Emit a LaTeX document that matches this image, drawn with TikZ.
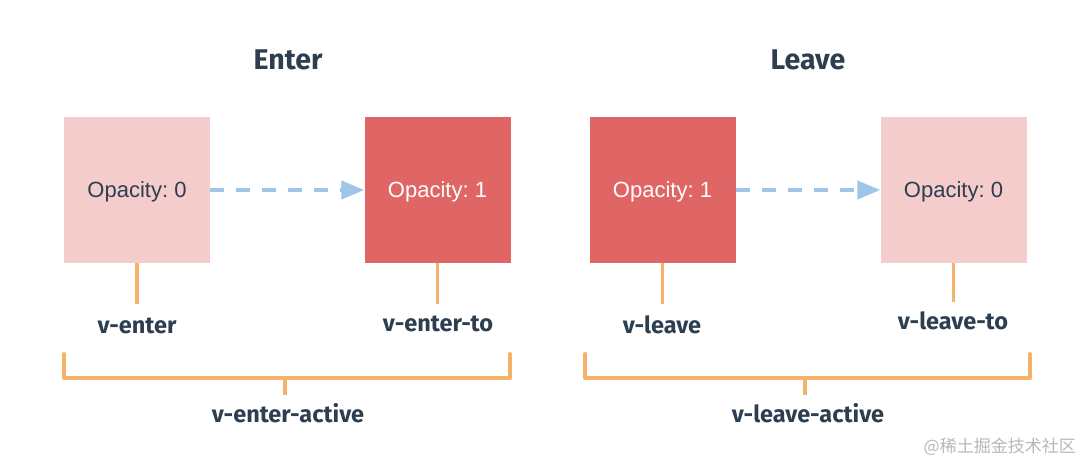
\documentclass[tikz,border=0pt]{standalone}
\usepackage{fontspec}
\setmainfont{Liberation Sans}
\newfontfamily\lblfont{Fira Sans}
\newfontfamily\cjkfont{Noto Sans CJK SC}
\usetikzlibrary{arrows.meta}
\definecolor{pinkbox}{HTML}{F4CCCC}
\definecolor{redbox}{HTML}{E06666}
\definecolor{orangeline}{HTML}{F6B26B}
\definecolor{bluearrow}{HTML}{9FC5E8}
\definecolor{darktext}{HTML}{2C3E50}
\definecolor{wmgray}{HTML}{B8B8B8}
\frenchspacing
\begin{document}
\begin{tikzpicture}[x=1pt,y=-1pt,
  box/.style={minimum width=146pt, minimum height=146pt, inner sep=0pt, font=\fontsize{22}{26}\selectfont, text depth=0pt},
  lightbox/.style={box, fill=pinkbox, text=darktext},
  darkbox/.style={box, fill=redbox, text=white},
  stub/.style={draw=orangeline, line width=3.5pt},
  bracket/.style={draw=orangeline, line width=4pt, line cap=round, line join=round},
  flow/.style={draw=bluearrow, line width=4pt, dash pattern=on 14pt off 12pt, -{Triangle[length=23pt,width=18pt]}},
  lbl/.style={font=\lblfont\bfseries\fontsize{23.5}{28}\selectfont, text=darktext, anchor=base, inner sep=0pt},
  title/.style={font=\lblfont\bfseries\fontsize{28.5}{34}\selectfont, text=darktext, anchor=base, inner sep=0pt}
]
\useasboundingbox (0,0) rectangle (1084,470);
\fill[white] (0,0) rectangle (1084,470);

% titles
\node[title] (tEnter) at (288,70) {Enter};
\node[title] (tLeave) at (808,70) {Leave};

% boxes
\node[lightbox] (b1) at (137,190) {Opacity: 0};
\node[darkbox] (b2) at (437.5,190) {Opacity: 1};
\node[darkbox] (b3) at (662.5,190) {Opacity: 1};
\node[lightbox] (b4) at (953.5,190) {Opacity: 0};

% dashed arrows
\draw[flow] (b1.east) -- (b2.west);
\draw[flow] (b3.east) -- (b4.west);

% stubs under boxes
\coordinate (s1) at (137,304);
\coordinate (s2) at (437.5,304);
\coordinate (s3) at (662.5,304);
\coordinate (s4) at (953.5,302);
\draw[stub] (b1.south) -- (s1);
\draw[stub] (b2.south) -- (s2);
\draw[stub] (b3.south) -- (s3);
\draw[stub] (b4.south) -- (s4);

% class labels
\node[lbl] (l1) at (137,334) {v-enter};
\node[lbl] (l2) at (438,331) {v-enter-to};
\node[lbl] (l3) at (662,333) {v-leave};
\node[lbl] (l4) at (953,329) {v-leave-to};

% brackets
\coordinate (eLT) at (64,354);
\coordinate (eLB) at (64,378);
\coordinate (eRB) at (510,378);
\coordinate (eRT) at (510,354);
\coordinate (eM) at (285,378);
\coordinate (eMB) at (285,395);
\draw[bracket] (eLT) -- (eLB) -- (eRB) -- (eRT);
\draw[stub] (eM) -- (eMB);

\coordinate (lLT) at (585,354);
\coordinate (lLB) at (585,378);
\coordinate (lRB) at (1030,378);
\coordinate (lRT) at (1030,354);
\coordinate (lM) at (805,378);
\coordinate (lMB) at (805,395);
\draw[bracket] (lLT) -- (lLB) -- (lRB) -- (lRT);
\draw[stub] (lM) -- (lMB);

\node[lbl] (a1) at (288,422) {v-enter-active};
\node[lbl] (a2) at (808,422) {v-leave-active};

% watermark
\node[font=\cjkfont\fontsize{17}{20}\selectfont, text=wmgray, anchor=base east, inner sep=0pt] (wm) at (1076,452) {@稀土掘金技术社区};
\end{tikzpicture}
\end{document}
